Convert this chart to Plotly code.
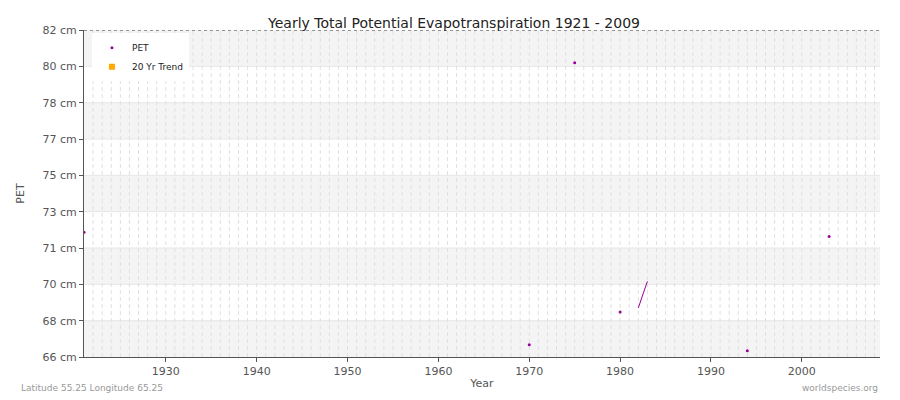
import plotly.graph_objects as go

years = [1921, 1970, 1975, 1980, 1994, 2003]
pet = [72.1, 66.6, 80.4, 68.2, 66.3, 71.9]
trend_years = [1982, 1983]
trend_vals = [68.4, 69.7]
ymin, ymax = 66, 82
tickvals = [ymin + i * (ymax - ymin) / 9 for i in range(10)]
ticktext = [f"{round(v)} cm" for v in tickvals]

fig = go.Figure()
for i in range(9):
    if i % 2 == 0:
        fig.add_shape(type="rect", xref="paper", x0=0, x1=1, y0=tickvals[i], y1=tickvals[i+1],
                      fillcolor="#f4f4f4", line_width=0, layer="below")
for v in tickvals[1:-1]:
    fig.add_shape(type="line", xref="paper", x0=0, x1=1, y0=v, y1=v,
                  line=dict(color="#e6e6e6", width=1), layer="below")
for y in range(1922, 2009):
    fig.add_shape(type="line", x0=y, x1=y, yref="paper", y0=0, y1=1,
                  line=dict(color="#e0e0e0", width=1, dash="4px,3px"), layer="below")
fig.add_shape(type="line", xref="paper", x0=0, x1=1, y0=ymax, y1=ymax,
              line=dict(color="#333", width=1, dash="dot"))
fig.add_trace(go.Scatter(x=years, y=pet, mode="markers", name="PET",
                         marker=dict(color="#990099", size=3)))
fig.add_trace(go.Scatter(x=trend_years, y=trend_vals, mode="lines", name="20 Yr Trend",
                         showlegend=False, line=dict(color="#990099", width=1)))
fig.add_trace(go.Scatter(x=[None], y=[None], mode="markers", name="20 Yr Trend",
                         marker=dict(color="#ffaa00", size=6, symbol="square")))
fig.data[0].update(marker=dict(symbol="circle"))
fig.update_layout(
    width=892, height=392, paper_bgcolor="white", plot_bgcolor="white",
    margin=dict(l=66, r=20, t=22, b=40),
    title=dict(text="Yearly Total Potential Evapotranspiration 1921 - 2009", x=0.5, xanchor="center",
               y=0.975, yanchor="top",
               font=dict(family="DejaVu Sans", size=14, color="#222")),
    font=dict(family="DejaVu Sans", size=11, color="#555"),
    xaxis=dict(range=[1921, 2008.6], tickvals=[1930, 1940, 1950, 1960, 1970, 1980, 1990, 2000],
               showgrid=False, zeroline=False, showline=True, linecolor="#555", ticks="outside",
               ticklen=4, tickcolor="#555",
               title=dict(text="Year", standoff=2, font=dict(size=11))),
    yaxis=dict(range=[ymin, ymax], tickvals=tickvals, ticktext=ticktext, showgrid=False,
               zeroline=False, showline=True, linecolor="#555", ticks="outside", ticklen=4,
               tickcolor="#555", title=dict(text="PET", font=dict(size=11))),
    legend=dict(x=0.01, y=0.99, bgcolor="white", font=dict(size=9, color="#222"),
                tracegroupgap=0),
    showlegend=True,
)
fig.add_annotation(text="Latitude 55.25 Longitude 65.25", xref="paper", yref="paper", x=-0.082, y=-0.094,
                   xanchor="left", yanchor="middle", showarrow=False, font=dict(size=9, color="#999"))
fig.add_annotation(text="worldspecies.org", xref="paper", yref="paper", x=1.0, y=-0.094,
                   xanchor="right", yanchor="middle", showarrow=False, font=dict(size=9, color="#999"))
fig.write_html("out.html")
